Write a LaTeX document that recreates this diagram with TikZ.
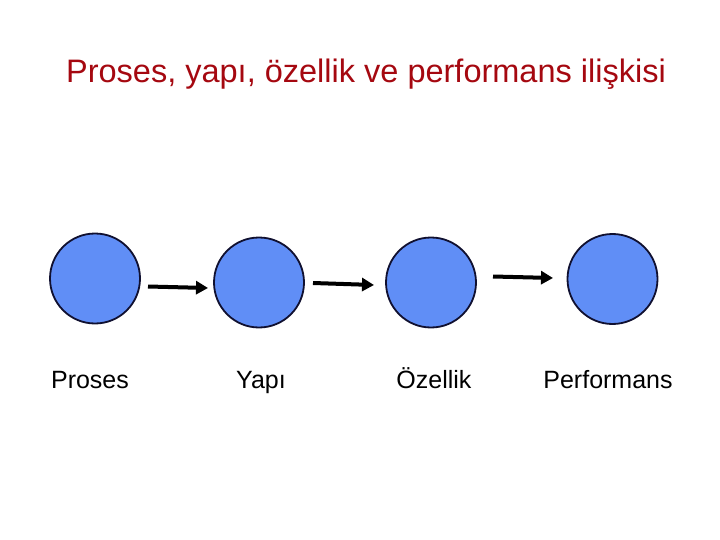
\documentclass[tikz,border=0pt]{standalone}
\usepackage{fontspec}
\setmainfont{Liberation Sans}
\usetikzlibrary{arrows.meta}
\definecolor{ballfill}{RGB}{96,142,246}
\definecolor{balledge}{RGB}{16,16,48}
\definecolor{titlered}{RGB}{165,8,16}
\tikzset{
  ball/.style={circle, draw=balledge, line width=1.8pt, fill=ballfill, minimum size=90pt, inner sep=0pt},
  lbl/.style={anchor=base, font=\fontsize{25}{30}\selectfont, inner sep=0pt},
  arr/.style={line width=4pt, -{Triangle[length=12pt,width=13pt]}},
}
\begin{document}
\begin{tikzpicture}[x=1pt,y=-1pt]
\useasboundingbox (0,0) rectangle (720,540);
\node[anchor=base, text=titlered, font=\fontsize{32.5}{38}\selectfont, inner sep=0pt] (title) at (366,83) {Proses, yapı, özellik ve performans ilişkisi};
\node[ball] (c1) at (95,278.5) {};
\node[ball] (c2) at (259,282.5) {};
\node[ball] (c3) at (431,282.5) {};
\node[ball] (c4) at (612.5,279) {};
\node[lbl] (l1) at (90,388) {Proses};
\node[lbl] (l2) at (261,388) {Yapı};
\node[lbl] (l3) at (434,388) {Özellik};
\node[lbl] (l4) at (608,388) {Performans};
\coordinate (a1s) at (148,286.5);
\coordinate (a1e) at (208,288);
\coordinate (a2s) at (313,283);
\coordinate (a2e) at (374,285);
\coordinate (a3s) at (493,276.5);
\coordinate (a3e) at (553,278);
\draw[arr] (a1s) -- (a1e);
\draw[arr] (a2s) -- (a2e);
\draw[arr] (a3s) -- (a3e);
\end{tikzpicture}
\end{document}
